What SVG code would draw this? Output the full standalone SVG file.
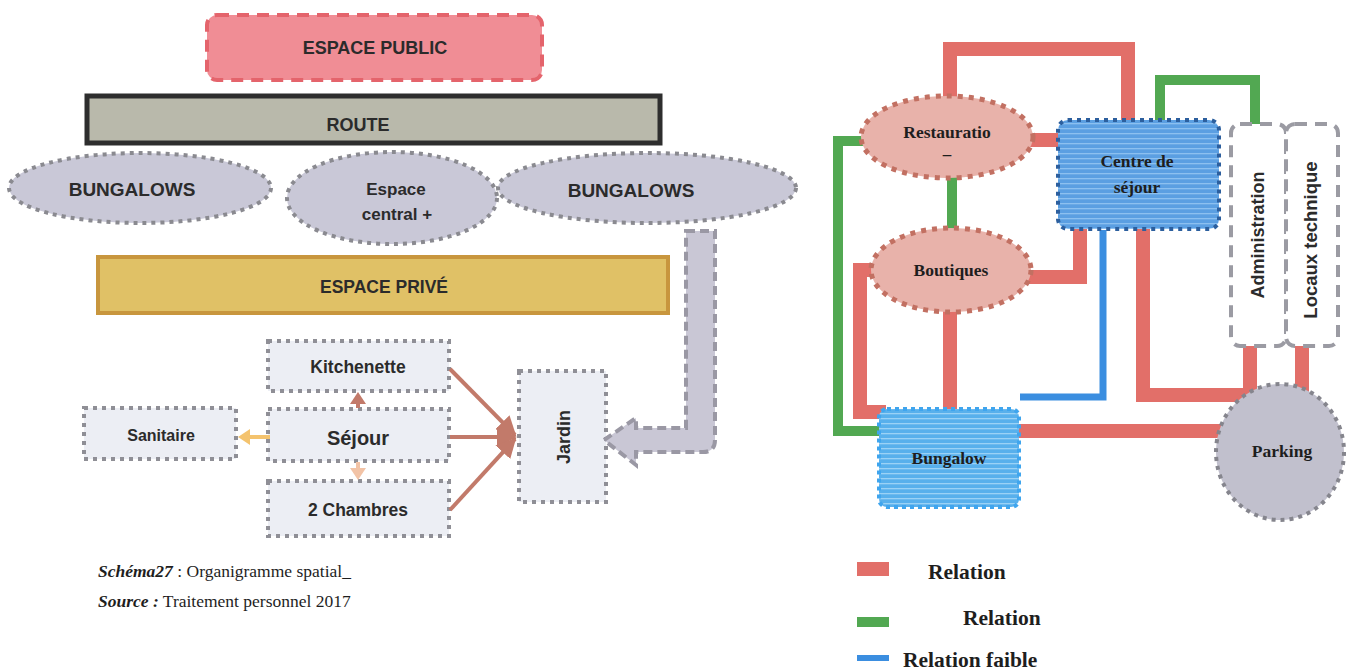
<svg xmlns="http://www.w3.org/2000/svg" width="1351" height="670" viewBox="0 0 1351 670">
<style>
.sans{font-family:"Liberation Sans",Arial,sans-serif;font-weight:bold;fill:#2b2b2b;text-anchor:middle}
.serif{font-family:"Liberation Serif","Times New Roman",serif;font-weight:bold;fill:#1e1e1e;text-anchor:middle}
.cap{font-family:"Liberation Serif","Times New Roman",serif;font-size:17.5px;fill:#1e1e1e}
.leg{font-family:"Liberation Serif","Times New Roman",serif;font-weight:bold;fill:#1e1e1e;font-size:21.5px}
.gbox{fill:#eceef4;stroke:#8f8f96;stroke-width:4;stroke-dasharray:4 5}
.gell{fill:#c9c8d7;stroke:#8a8a90;stroke-width:4;stroke-dasharray:4 5}
.pell{fill:#e8b2aa;stroke:#c27062;stroke-width:5;stroke-dasharray:5 6}
.red{fill:none;stroke:#e26f69;stroke-width:14}
.green{fill:none;stroke:#52a852;stroke-width:10}
.blue{fill:none;stroke:#3b8ee0;stroke-width:7}
.brown{stroke:#c27a6a;stroke-width:4;fill:none}
</style>
<defs>
<pattern id="stripeA" width="8" height="5" patternUnits="userSpaceOnUse">
<rect width="8" height="5" fill="#5b9fe2"/><rect y="3" width="8" height="1.3" fill="#8cc0f0"/>
</pattern>
<pattern id="stripeB" width="8" height="5" patternUnits="userSpaceOnUse">
<rect width="8" height="5" fill="#58b0ec"/><rect y="3" width="8" height="1.3" fill="#9ad2f6"/>
</pattern>
<marker id="mBrown" viewBox="0 0 10 10" refX="9" refY="5" markerWidth="5" markerHeight="5" orient="auto"><path d="M0 0 L10 5 L0 10 Z" fill="#c27a6a"/></marker>
</defs>

<!-- left diagram nodes -->
<g id="espace-public"><rect x="207" y="15" width="335" height="65" rx="10" fill="#f08d95" stroke="#e4646c" stroke-width="4" stroke-dasharray="12 8"/><text class="sans" x="375" y="54" font-size="18">ESPACE PUBLIC</text></g>
<g id="route"><rect x="87" y="96" width="573" height="47" fill="#b9b9ab" stroke="#2e2e2e" stroke-width="5"/><text class="sans" x="358" y="131" font-size="18">ROUTE</text></g>
<g id="bungalows-left"><ellipse class="gell" cx="140" cy="188" rx="131" ry="35"/><text class="sans" x="132" y="196" font-size="19">BUNGALOWS</text></g>
<g id="espace-central"><ellipse class="gell" cx="392" cy="198" rx="105" ry="46"/><text class="sans" x="396" y="195" font-size="17">Espace</text><text class="sans" x="397" y="220" font-size="17">central +</text></g>
<g id="bungalows-right"><ellipse class="gell" cx="647" cy="188" rx="149" ry="35"/><text class="sans" x="631" y="197" font-size="19">BUNGALOWS</text></g>
<g id="espace-prive"><rect x="98" y="257" width="570" height="56" fill="#e0c166" stroke="#c8963e" stroke-width="4"/><text class="sans" x="384" y="293" font-size="17.5">ESPACE PRIVÉ</text></g>
<g id="kitchenette"><rect class="gbox" x="268" y="341" width="181" height="50"/><text class="sans" x="358" y="373" font-size="17.5">Kitchenette</text></g>
<g id="sejour"><rect class="gbox" x="268" y="409" width="181" height="52"/><text class="sans" x="358" y="445" font-size="20">Séjour</text></g>
<g id="chambres"><rect class="gbox" x="268" y="481" width="181" height="55"/><text class="sans" x="358" y="516" font-size="17.5">2 Chambres</text></g>
<g id="sanitaire"><rect class="gbox" x="84" y="408" width="152" height="51"/><text class="sans" x="161" y="441" font-size="16">Sanitaire</text></g>
<g id="jardin"><rect class="gbox" x="519" y="371" width="87" height="131"/><text class="sans" transform="translate(570 437) rotate(-90)" x="0" y="0" font-size="18">Jardin</text></g>

<!-- left connectors -->
<g id="left-connectors">
<path d="M686 231 L715 231 L715 440 Q715 452 703 452 L636 452 L636 465 L604 440 L636 418 L636 428 L686 428 Z" fill="#c9c7d5" stroke="#9a98a4" stroke-width="4" stroke-dasharray="9 5"/>
<line class="brown" x1="450" y1="369" x2="515" y2="435" marker-end="url(#mBrown)"/>
<line class="brown" x1="450" y1="437" x2="515" y2="437" marker-end="url(#mBrown)"/>
<line class="brown" x1="450" y1="510" x2="515" y2="439" marker-end="url(#mBrown)"/>
<path d="M270 437 H249" stroke="#f4c36e" stroke-width="4"/><path d="M250 429 L238 437 L250 445 Z" fill="#f4c36e"/>
<path d="M358 408 V402" stroke="#c27a6a" stroke-width="4"/><path d="M350 404 L358 392 L366 404 Z" fill="#c27a6a"/>
<path d="M358 462 V470" stroke="#f2c3a6" stroke-width="4"/><path d="M350 468 L358 480 L366 468 Z" fill="#f2c3a6"/>
</g>

<g id="caption">
<text class="cap" x="98" y="577"><tspan font-style="italic" font-weight="bold">Schéma27</tspan> : Organigramme spatial_</text>
<text class="cap" x="98" y="607"><tspan font-style="italic" font-weight="bold">Source :</tspan> Traitement personnel 2017</text>
</g>

<!-- right connectors -->
<g id="right-connectors">
<path class="red" d="M950 98 V49 H1128 V121"/>
<path class="red" d="M1018 140 H1060"/>
<path class="red" d="M1028 277 H1080 V228"/>
<path class="red" d="M876 270 H860 V412 H886"/>
<path class="red" d="M950 310 V410"/>
<path class="red" d="M1018 431 H1228"/>
<path class="red" d="M1143 228 V395 H1257"/>
<path class="red" d="M1250 345 V398"/>
<path class="red" d="M1302 343 V392"/>
<path class="green" d="M866 141 H838 V431 H882"/>
<path class="green" d="M952 176 V230"/>
<path class="green" d="M1160 121 V80 H1255 V125"/>
<path class="blue" d="M1103 230 V397 H1020"/>
</g>

<!-- right nodes -->
<g id="restauration"><ellipse class="pell" cx="947" cy="137" rx="86" ry="41"/><text class="serif" x="947" y="138" font-size="17.5">Restauratio</text><text class="serif" x="947" y="160" font-size="17">–</text></g>
<g id="boutiques"><ellipse class="pell" cx="951" cy="270" rx="80" ry="42"/><text class="serif" x="951" y="276" font-size="17.5">Boutiques</text></g>
<g id="centre-sejour"><rect x="1058" y="120" width="161" height="109" rx="10" fill="url(#stripeA)" stroke="#2c5f9e" stroke-width="4" stroke-dasharray="4 5"/><text class="serif" x="1137" y="167" font-size="17.5">Centre de</text><text class="serif" x="1137" y="193" font-size="17.5">séjour</text></g>
<g id="administration"><rect x="1231" y="124" width="55" height="222" rx="9" fill="#ffffff" stroke="#9b9ba3" stroke-width="4" stroke-dasharray="12 8"/><text class="sans" transform="translate(1258 235) rotate(-90)" x="0" y="6" font-size="18">Administration</text></g>
<g id="locaux-technique"><rect x="1286" y="124" width="52" height="222" rx="9" fill="#ffffff" stroke="#9b9ba3" stroke-width="4" stroke-dasharray="12 8"/><text class="sans" transform="translate(1311 240) rotate(-90)" x="0" y="6" font-size="18.5">Locaux technique</text></g>
<g id="bungalow"><rect x="879" y="409" width="140" height="98" rx="8" fill="url(#stripeB)" stroke="#3fa5ee" stroke-width="4" stroke-dasharray="4 4"/><text class="serif" x="949" y="464" font-size="17.5">Bungalow</text></g>
<g id="parking"><ellipse cx="1280" cy="452" rx="64" ry="68" fill="#c1c0cd" stroke="#85858d" stroke-width="4" stroke-dasharray="4 5"/><text class="serif" x="1282" y="457" font-size="17.5">Parking</text></g>

<g id="legend">
<rect x="857" y="562" width="32" height="14" fill="#e26f69"/>
<text class="leg" x="928" y="579">Relation</text>
<rect x="857" y="617" width="32" height="10" fill="#52a852"/>
<text class="leg" x="963" y="625">Relation</text>
<rect x="857" y="655" width="32" height="6" fill="#3b8ee0"/>
<text class="leg" x="903" y="667">Relation faible</text>
</g>
</svg>
